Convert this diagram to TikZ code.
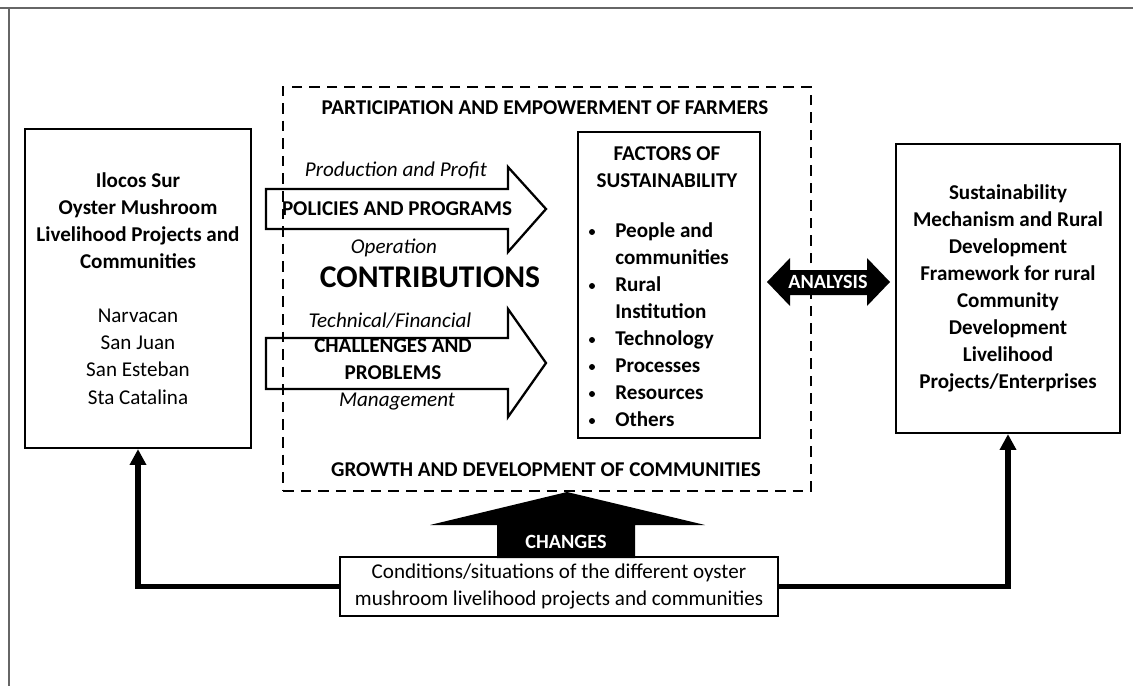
\documentclass[tikz,border=0pt]{standalone}
\usepackage{fontspec}
\setmainfont{Carlito}
\usepackage{tikz}
\usetikzlibrary{arrows.meta}

\begin{document}
\begin{tikzpicture}[
    x=0.02cm, y=-0.02cm,
    every node/.style={font=\fontsize{12}{15.4}\selectfont},
    box/.style={draw, line width=1.3pt, inner sep=0pt, align=center},
    hd/.style={font=\fontsize{12}{15.4}\selectfont\bfseries, align=center},
    lab/.style={font=\fontsize{12}{15.4}\selectfont\itshape},
    item/.style={font=\fontsize{12}{15.4}\selectfont\bfseries, inner sep=0pt},
    dot/.style={circle, fill=black, inner sep=0pt, minimum size=3.4pt},
    inv/.style={font=\fontsize{11.5}{14}\selectfont\bfseries, text=white},
    blockarrow/.style={draw, line width=1.3pt, line join=miter},
    dashbox/.style={draw, line width=1.3pt, dash pattern=on 6pt off 4pt},
    feed/.style={line width=3pt, -{Triangle[length=9pt,width=9pt]}},
    edge/.style={draw=gray!80!black, line width=1pt}
]
\useasboundingbox (0,0) rectangle (1133,686);

% 外枠
\draw[edge] (0,8) -- (1133,8);
\draw[edge] (9,8) -- (9,686);

% 左の箱
\node[box, minimum width=4.52cm, minimum height=6.38cm] (proj) at (138,288.5)
    {\textbf{Ilocos Sur}\\ \textbf{Oyster Mushroom}\\ \textbf{Livelihood Projects and}\\ \textbf{Communities}\\[15.4pt]
     Narvacan\\ San Juan\\ San Esteban\\ Sta Catalina};

% 破線の枠
\node[dashbox, minimum width=10.56cm, minimum height=8.08cm] (growth) at (547,289) {};
\node[hd] (partic) at (545,108) {PARTICIPATION AND EMPOWERMENT OF FARMERS};
\node[hd] (growdev) at (546,470) {GROWTH AND DEVELOPMENT OF COMMUNITIES};

% 白抜きの矢印
\draw[blockarrow] (266,189) -- (508,189) -- (508,167) -- (546,209) -- (508,252) -- (508,229) -- (266,229) -- cycle;
\draw[blockarrow] (266,338) -- (508,338) -- (508,309) -- (546,363) -- (508,417) -- (508,389) -- (266,389) -- cycle;

\node[lab] (prod) at (396,170) {Production and Profit};
\node[hd] (polic) at (397,209) {POLICIES AND PROGRAMS};
\node[lab] (oper) at (394,248) {Operation};
\node[font=\fontsize{18}{22}\selectfont\bfseries] (contrib) at (430,277) {CONTRIBUTIONS};
\node[lab] (tech) at (390,321) {Technical/Financial};
\node[hd] (chall) at (393,359) {CHALLENGES AND\\PROBLEMS};
\node[lab] (manag) at (397,402) {Management};

% 持続性の要因
\node[box, minimum width=3.64cm, minimum height=6.12cm] (factors) at (669,285) {};
\node[hd] (facthead) at (667,167) {FACTORS OF\\SUSTAINABILITY};
\foreach \txt/\bul [count=\i] in {People and/1, communities/0, Rural/1, Institution/0,
                                  Technology/1, Processes/1, Resources/1, Others/1} {
    \node[item, anchor=base west] (fac\i) at (615,{210+27*\i}) {\txt};
    \ifnum\bul=1
        \node[dot] (bul\i) at (592,{205+27*\i}) {};
    \fi
}

% 分析
\fill (767,282) -- (790,258) -- (790,270) -- (867,270) -- (867,258) -- (890,282)
      -- (867,306) -- (867,295) -- (790,295) -- (790,306) -- cycle;
\node[inv] (analysis) at (828,282) {ANALYSIS};

% 右の箱
\node[box, minimum width=4.48cm, minimum height=5.78cm, font=\fontsize{12}{15.4}\selectfont\bfseries] (mech) at (1008,288.5)
    {Sustainability\\ Mechanism and Rural\\ Development\\ Framework for rural\\ Community\\ Development\\ Livelihood\\ Projects/Enterprises};

% 変化
\fill (497,558) -- (497,525) -- (430,525) -- (567,492) -- (705,525) -- (635,525) -- (635,558) -- cycle;
\node[inv] (changes) at (566,542) {CHANGES};

\node[box, minimum width=8.76cm, minimum height=1.18cm] (cond) at (559,586.5)
    {Conditions/situations of the different oyster\\ mushroom livelihood projects and communities};

\draw[feed] (cond.west) -| (proj.south);
\draw[feed] (cond.east) -| (mech.south);

\end{tikzpicture}
\end{document}
